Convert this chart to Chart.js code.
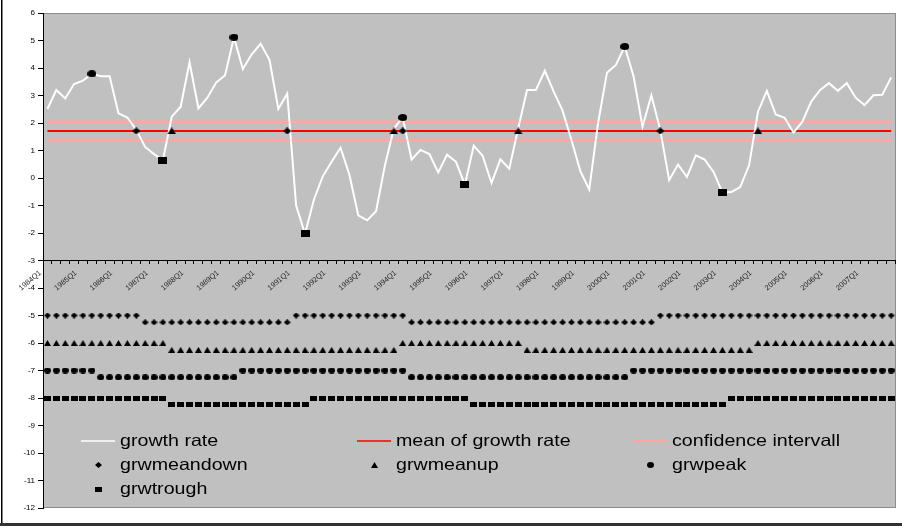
<!DOCTYPE html>
<html>
<head>
<meta charset="utf-8">
<title>Growth rate and turning points</title>
<script src="https://cdn.jsdelivr.net/npm/chart.js@4/dist/chart.umd.min.js"></script>
<style>
  html, body { margin: 0; padding: 0; background: #fff; }
  #wrap { position: relative; width: 902px; height: 526px; }
  canvas { display: block; }
</style>
</head>
<body>
<div id="wrap"><canvas id="chart" width="902" height="526"></canvas></div>
<script>
// ---- data -------------------------------------------------------------
const years = [1984, 1985, 1986, 1987, 1988, 1989, 1990, 1991, 1992, 1993, 1994, 1995,
               1996, 1997, 1998, 1999, 2000, 2001, 2002, 2003, 2004, 2005, 2006, 2007];
const quarters = ['Q1', 'Q2', 'Q3', 'Q4'];
const categories = years.flatMap(y => quarters.map(q => y + q));

// quarterly growth rate, 1984Q1 .. 2007Q4
const growthRate = [
   2.51,  3.20,  2.89,  3.42,   3.54,  3.79,  3.70,  3.70,   // 1984-85
   2.35,  2.20,  1.75,  1.13,   0.87,  0.65,  2.23,  2.59,   // 1986-87
   4.21,  2.53,  2.92,  3.47,   3.74,  5.12,  3.96,  4.50,   // 1988-89
   4.88,  4.30,  2.51,  3.07,  -1.00, -2.03, -0.79,  0.06,   // 1990-91
   0.59,  1.10,  0.12, -1.36,  -1.54, -1.21,  0.46,  1.80,   // 1992-93
   2.20,  0.67,  1.02,  0.87,   0.20,  0.85,  0.59, -0.24,   // 1994-95
   1.18,  0.81, -0.18,  0.68,   0.34,  1.80,  3.20,  3.20,   // 1996-97
   3.90,  3.14,  2.45,  1.38,   0.25, -0.42,  2.00,  3.83,   // 1998-99
   4.11,  4.78,  3.69,  1.87,   3.01,  1.75, -0.08,  0.49,   // 2000-01
   0.04,  0.82,  0.67,  0.22,  -0.53, -0.51, -0.33,  0.46,   // 2002-03
   2.41,  3.17,  2.31,  2.19,   1.65,  2.05,  2.78,  3.20,   // 2004-05
   3.45,  3.17,  3.45,  2.92,   2.65,  3.01,  3.03,  3.66    // 2006-07
];

const meanGrowth = 1.71;
const confidenceUpper = 2.04;
const confidenceLower = 1.38;

// positions (quarter index) of the dated turning points
const peakIdx      = [5, 21, 40, 65];
const troughIdx    = [13, 29, 47, 76];
const meanUpIdx    = [14, 39, 53, 80];
const meanDownIdx  = [10, 27, 40, 69];

// phase indicator rows
const rowMeanDown = [
  -5, -5, -5, -5,   -5, -5, -5, -5,   -5, -5, -5, -5.25,   -5.25, -5.25, -5.25, -5.25,
  -5.25, -5.25, -5.25, -5.25,   -5.25, -5.25, -5.25, -5.25,   -5.25, -5.25, -5.25, -5.25,   -5, -5, -5, -5,
  -5, -5, -5, -5,   -5, -5, -5, -5,   -5, -5.25, -5.25, -5.25,   -5.25, -5.25, -5.25, -5.25,
  -5.25, -5.25, -5.25, -5.25,   -5.25, -5.25, -5.25, -5.25,   -5.25, -5.25, -5.25, -5.25,   -5.25, -5.25, -5.25, -5.25,
  -5.25, -5.25, -5.25, -5.25,   -5.25, -5, -5, -5,   -5, -5, -5, -5,   -5, -5, -5, -5,
  -5, -5, -5, -5,   -5, -5, -5, -5,   -5, -5, -5, -5,   -5, -5, -5, -5
];
const rowMeanUp = [
  -6, -6, -6, -6,   -6, -6, -6, -6,   -6, -6, -6, -6,   -6, -6, -6.25, -6.25,
  -6.25, -6.25, -6.25, -6.25,   -6.25, -6.25, -6.25, -6.25,   -6.25, -6.25, -6.25, -6.25,   -6.25, -6.25, -6.25, -6.25,
  -6.25, -6.25, -6.25, -6.25,   -6.25, -6.25, -6.25, -6.25,   -6, -6, -6, -6,   -6, -6, -6, -6,
  -6, -6, -6, -6,   -6, -6, -6.25, -6.25,   -6.25, -6.25, -6.25, -6.25,   -6.25, -6.25, -6.25, -6.25,
  -6.25, -6.25, -6.25, -6.25,   -6.25, -6.25, -6.25, -6.25,   -6.25, -6.25, -6.25, -6.25,   -6.25, -6.25, -6.25, -6.25,
  -6, -6, -6, -6,   -6, -6, -6, -6,   -6, -6, -6, -6,   -6, -6, -6, -6
];
const rowPeak = [
  -7, -7, -7, -7,   -7, -7, -7.25, -7.25,   -7.25, -7.25, -7.25, -7.25,   -7.25, -7.25, -7.25, -7.25,
  -7.25, -7.25, -7.25, -7.25,   -7.25, -7.25, -7, -7,   -7, -7, -7, -7,   -7, -7, -7, -7,
  -7, -7, -7, -7,   -7, -7, -7, -7,   -7, -7.25, -7.25, -7.25,   -7.25, -7.25, -7.25, -7.25,
  -7.25, -7.25, -7.25, -7.25,   -7.25, -7.25, -7.25, -7.25,   -7.25, -7.25, -7.25, -7.25,   -7.25, -7.25, -7.25, -7.25,
  -7.25, -7.25, -7, -7,   -7, -7, -7, -7,   -7, -7, -7, -7,   -7, -7, -7, -7,
  -7, -7, -7, -7,   -7, -7, -7, -7,   -7, -7, -7, -7,   -7, -7, -7, -7
];
const rowTrough = [
  -8, -8, -8, -8,   -8, -8, -8, -8,   -8, -8, -8, -8,   -8, -8, -8.25, -8.25,
  -8.25, -8.25, -8.25, -8.25,   -8.25, -8.25, -8.25, -8.25,   -8.25, -8.25, -8.25, -8.25,   -8.25, -8.25, -8, -8,
  -8, -8, -8, -8,   -8, -8, -8, -8,   -8, -8, -8, -8,   -8, -8, -8, -8,
  -8.25, -8.25, -8.25, -8.25,   -8.25, -8.25, -8.25, -8.25,   -8.25, -8.25, -8.25, -8.25,   -8.25, -8.25, -8.25, -8.25,
  -8.25, -8.25, -8.25, -8.25,   -8.25, -8.25, -8.25, -8.25,   -8.25, -8.25, -8.25, -8.25,   -8.25, -8, -8, -8,
  -8, -8, -8, -8,   -8, -8, -8, -8,   -8, -8, -8, -8,   -8, -8, -8, -8
];

const legendOrder = ['growth rate', 'mean of growth rate', 'confidence intervall',
                     'grwmeandown', 'grwmeanup', 'grwpeak', 'grwtrough'];

// ---- marker glyphs ----------------------------------------------------
function marker(shape, w, h) {
  const c = document.createElement('canvas');
  c.width = w; c.height = h;
  const g = c.getContext('2d');
  g.fillStyle = '#000';
  g.beginPath();
  if (shape === 'diamond') {
    g.moveTo(w / 2, 0); g.lineTo(w, h / 2); g.lineTo(w / 2, h); g.lineTo(0, h / 2);
  } else if (shape === 'triangle') {
    g.moveTo(w / 2, 0); g.lineTo(w, h); g.lineTo(0, h);
  } else if (shape === 'circle') {
    g.ellipse(w / 2, h / 2, w / 2, h / 2, 0, 0, Math.PI * 2);
  } else {
    g.rect(0, 0, w, h);
  }
  g.closePath();
  g.fill();
  return c;
}

const rowDiamond  = marker('diamond', 7, 6);
const rowTriangle = marker('triangle', 7, 6);
const rowCircle   = marker('circle', 7, 6);
const rowSquare   = marker('square', 7, 5);
const bigDiamond  = marker('diamond', 8, 7);
const bigTriangle = marker('triangle', 9, 7);
const bigCircle   = marker('circle', 9, 7);
const bigSquare   = marker('square', 9, 7);

const at = (idx, valueOf) => idx.map(i => ({ x: categories[i], y: valueOf(i) }));
const span = v => [{ x: categories[0], y: v }, { x: categories[categories.length - 1], y: v }];

function markerSet(label, data, style, order) {
  return { label, data, showLine: false, pointStyle: style, pointRadius: 3,
           borderWidth: 0, backgroundColor: '#000', borderColor: '#000', order };
}
function lineSet(label, data, color, width, order) {
  return { label, data, borderColor: color, borderWidth: width, pointRadius: 0,
           tension: 0, fill: false, order };
}

const datasets = [
  markerSet('meandown point', at(meanDownIdx, () => meanGrowth), bigDiamond, 0),
  markerSet('meanup point',   at(meanUpIdx,   () => meanGrowth), bigTriangle, 0),
  markerSet('peak point',     at(peakIdx,     i => growthRate[i]), bigCircle, 0),
  markerSet('trough point',   at(troughIdx,   i => growthRate[i]), bigSquare, 0),
  markerSet('grwmeandown', rowMeanDown, rowDiamond, 1),
  markerSet('grwmeanup',   rowMeanUp,   rowTriangle, 1),
  markerSet('grwpeak',     rowPeak,     rowCircle, 1),
  markerSet('grwtrough',   rowTrough,   rowSquare, 1),
  lineSet('growth rate', growthRate, '#FFFFFF', 2, 2),
  lineSet('mean of growth rate', span(meanGrowth), '#FF0000', 2, 3),
  lineSet('confidence intervall', span(confidenceUpper), '#FFA6A6', 3, 4),
  lineSet('confidence intervall ', span(confidenceLower), '#FFA6A6', 3, 4)
];

// ---- plugins ----------------------------------------------------------
const frame = {
  id: 'frame',
  beforeDraw(chart) {
    const { ctx, chartArea: a, width, height } = chart;
    ctx.save();
    ctx.fillStyle = '#FFFFFF';
    ctx.fillRect(0, 0, width, height);
    ctx.fillStyle = '#C0C0C0';
    ctx.fillRect(a.left, a.top, a.right - a.left, a.bottom - a.top);
    ctx.strokeStyle = '#8C8C8C';
    ctx.lineWidth = 1;
    ctx.strokeRect(Math.round(a.left) + 0.5, Math.round(a.top) + 0.5,
                   Math.round(a.right - a.left) - 1, Math.round(a.bottom - a.top) - 1);
    ctx.fillStyle = '#000000';
    ctx.fillRect(1, 0, 1.5, height);
    ctx.fillStyle = '#333333';
    ctx.fillRect(0, height - 3, width, 3);
    ctx.restore();
  }
};

const insideLegend = {
  id: 'insideLegend',
  afterDraw(chart) {
    const { ctx } = chart;
    const colX = [81, 357, 633];     // left end of each symbol slot
    const rowY = [441, 465, 489.5];
    const slot = 34;
    ctx.save();
    legendOrder.forEach((name, k) => {
      const ds = chart.data.datasets.find(d => d.label === name);
      const x0 = colX[k % 3], y = rowY[Math.floor(k / 3)];
      if (ds.showLine === false) {
        const img = ds.pointStyle;
        ctx.drawImage(img, Math.round(x0 + slot / 2 - img.width / 2), Math.round(y - img.height / 2));
      } else {
        ctx.strokeStyle = ds.borderColor;
        ctx.lineWidth = ds.borderWidth === 3 ? 2 : 1.5;
        ctx.beginPath();
        ctx.moveTo(x0, y);
        ctx.lineTo(x0 + slot, y);
        ctx.stroke();
      }
      ctx.save();
      ctx.translate(x0 + slot + 5, y);
      ctx.scale(1.19, 1);
      ctx.fillStyle = '#000';
      ctx.font = '16.5px "Liberation Sans", Arial, sans-serif';
      ctx.textBaseline = 'middle';
      ctx.textAlign = 'left';
      ctx.fillText(name, 0, 0);
      ctx.restore();
    });
    ctx.restore();
  }
};

// ---- chart ------------------------------------------------------------
new Chart(document.getElementById('chart'), {
  type: 'line',
  data: { labels: categories, datasets },
  options: {
    responsive: false,
    animation: false,
    events: [],
    layout: { padding: { left: 0, top: 13, right: 6, bottom: 18 } },
    plugins: { legend: { display: false }, tooltip: { enabled: false } },
    scales: {
      x: {
        type: 'category',
        offset: true,
        position: { y: -3 },
        grid: { display: true, drawOnChartArea: false, drawTicks: true, tickLength: 3,
                color: '#000', offset: true },
        border: { display: true, color: '#000', width: 1 },
        ticks: {
          autoSkip: false, minRotation: 40, maxRotation: 40, padding: 5, labelOffset: -7,
          color: '#222', font: { family: 'Liberation Sans', size: 7.5 },
          callback: (v, i) => categories[i].endsWith('Q1') ? categories[i] : ''
        }
      },
      y: {
        type: 'linear', min: -12, max: 6, position: 'left',
        ticks: { stepSize: 1, color: '#000', padding: 3,
                 font: { family: 'Liberation Sans', size: 8 } },
        grid: { drawOnChartArea: false, drawTicks: true, tickLength: 5, color: '#000' },
        border: { display: true, color: '#000', width: 1 },
        afterFit(scale) { scale.width = 43; }
      }
    }
  },
  plugins: [frame, insideLegend]
});
</script>
</body>
</html>
